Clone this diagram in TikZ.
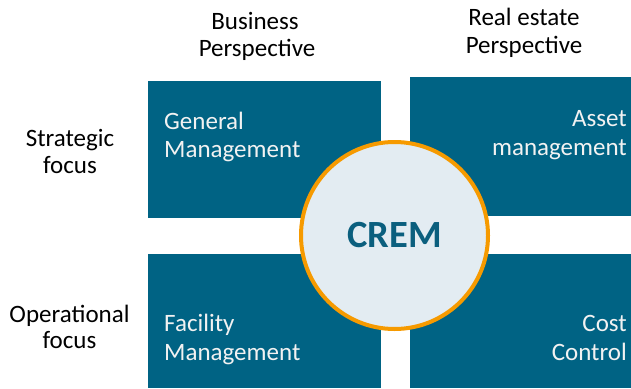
\documentclass[tikz,border=0pt]{standalone}
\usepackage{fontspec}
\setmainfont{Carlito}
\definecolor{boxblue}{HTML}{006384}
\definecolor{circfill}{HTML}{E3ECF2}
\definecolor{ringorange}{HTML}{F69A00}
\definecolor{cremblue}{HTML}{0B5F7E}
\definecolor{boxtext}{HTML}{F2F2F2}
\begin{document}
\begin{tikzpicture}[x=1pt,y=-1pt,
  box/.style={fill=boxblue, draw=none, anchor=north west, inner sep=0pt, outer sep=0pt},
  intext/.style={text=boxtext, inner sep=0pt, font=\fontsize{25}{28}\selectfont},
  outtext/.style={text=black, inner sep=0pt, anchor=base, font=\fontsize{25}{28}\selectfont},
  crem/.style={circle, draw=ringorange, line width=4pt, fill=circfill, minimum size=187pt, inner sep=0pt,
     text=cremblue, font=\fontsize{38.5}{40}\selectfont\bfseries}]
\useasboundingbox (0,0) rectangle (631,388);
% boxes
\node[box, minimum width=232.5pt, minimum height=136.5pt] (tl) at (148,81) {};
\node[box, minimum width=221pt, minimum height=138.5pt] (tr) at (410,77) {};
\node[box, minimum width=232.5pt, minimum height=134pt] (bl) at (148,254) {};
\node[box, minimum width=221pt, minimum height=134pt] (br) at (410,254) {};
% box texts
\node[intext, anchor=base west] (gm1) at (164,129) {General};
\node[intext, anchor=base west] (gm2) at (164,157.7) {Management};
\node[intext, anchor=base east] (am1) at (627,126.7) {Asset};
\node[intext, anchor=base east] (am2) at (627,155) {management};
\node[intext, anchor=base west] (fm1) at (164,331.7) {Facility};
\node[intext, anchor=base west] (fm2) at (164,360) {Management};
\node[intext, anchor=base east] (cc1) at (627,331) {Cost};
\node[intext, anchor=base east] (cc2) at (627,360) {Control};
% circle
\node[crem] (c) at (394.5,235.5) {CREM};
% headers
\node[outtext] (bp1) at (255,29) {Business};
\node[outtext] (bp2) at (257,56) {Perspective};
\node[outtext] (rp1) at (524,25) {Real estate};
\node[outtext] (rp2) at (524,53.3) {Perspective};
% side labels
\node[outtext] (sf1) at (70,146.7) {Strategic};
\node[outtext] (sf2) at (70,173.3) {focus};
\node[outtext] (of1) at (69.5,322.3) {Operational};
\node[outtext] (of2) at (69.5,348.3) {focus};
\end{tikzpicture}
\end{document}
